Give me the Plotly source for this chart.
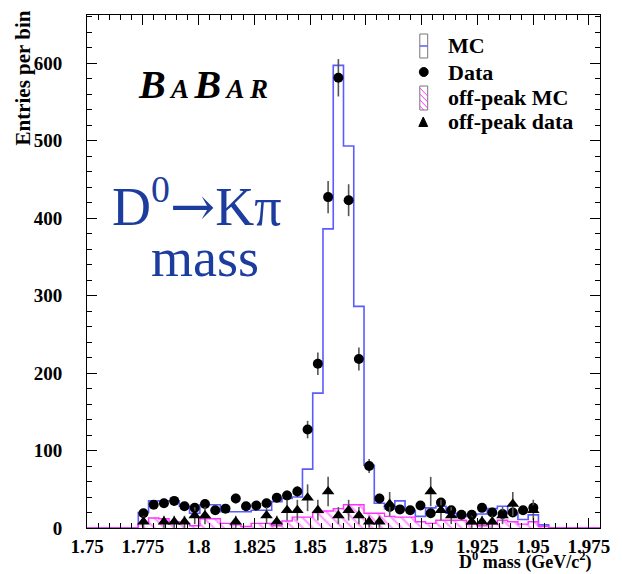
import plotly.graph_objects as go

# ---- binning (50 bins from 1.75 to 1.98 GeV/c^2) ----
bin_lo = 1.75
bin_width = 0.0046
n_bins = 50

# ---- MC (on-peak) histogram contents, bins 0..49 ----
mc_counts = [0, 0, 0, 0, 0,
             20, 35, 35, 35, 28, 19, 30, 30, 21, 21,
             21, 23, 23, 34, 38, 40, 76, 174, 386, 597,
             493, 286, 81, 32, 25, 35, 23, 15, 26, 28,
             19, 15, 17, 18, 25, 28, 19, 11, 17, 4,
             0, 0, 0, 0, 0]

# ---- off-peak MC histogram contents ----
offmc_counts = [0, 0, 0, 0, 0,
                6, 13, 12, 8, 6, 3, 12, 12, 6, 4,
                2, 6, 6, 3, 9, 14, 14, 20, 22, 25,
                30, 30, 19, 19, 15, 14, 14, 8, 6, 10,
                10, 10, 5, 3, 5, 10, 8, 5, 8, 2,
                0, 0, 0, 0, 0]

# ---- Data points (None = no entry) ----
data_vals = [None, None, None, None, None,
             19, 30, 32, 35, 28, 26, 31, 23, 25, 38,
             28, 29, 32, 39, 42, 47, 127, 212, 427, 581,
             423, 218, 80, 38, 27, 24, 23, 29, 19, 33,
             23, 17, 17, 26, 20, 18, 20, 23, 26, None,
             None, None, None, None, None]
data_errs = [None, None, None, None, None,
             4.4, 5.5, 5.7, 5.9, 5.3, 5.1, 5.6, 4.8, 5.0, 6.2,
             5.3, 5.4, 5.7, 6.2, 6.5, 6.9, 11.3, 14.6, 20.7, 24.1,
             20.6, 14.8, 8.9, 6.2, 5.2, 4.9, 4.8, 5.4, 4.4, 5.7,
             4.8, 4.1, 4.1, 5.1, 4.5, 4.2, 4.5, 4.8, 5.1, None,
             None, None, None, None, None]

# ---- off-peak data points ----
offdata_vals = [None, None, None, None, None,
                8, None, 8, 8, 8, 16, 16, None, None, 8,
                None, None, 16, 8, 23, 23, 39, 23, 47, 16,
                23, 16, 8, 8, 31, None, None, None, 47, 23,
                16, None, 8, 8, 8, 16, 31, None, 23, None,
                None, None, None, None, None]
offdata_errs = [None, None, None, None, None,
                7.8, None, 7.8, 7.8, 7.8, 11, 11, None, None, 7.8,
                None, None, 11, 7.8, 13.4, 13.4, 17.3, 13.4, 19, 11,
                13.4, 11, 7.8, 7.8, 15.5, None, None, None, 19, 13.4,
                11, None, 7.8, 7.8, 7.8, 11, 15.5, None, 13.4, None,
                None, None, None, None, None]

x_tickvals = [1.75, 1.775, 1.8, 1.825, 1.85, 1.875, 1.9, 1.925, 1.95, 1.975]
x_ticktext = ["1.75", "1.775", "1.8", "1.825", "1.85", "1.875", "1.9", "1.925", "1.95", "1.975"]
y_tickvals = [0, 100, 200, 300, 400, 500, 600]
y_ticktext = ["0", "100", "200", "300", "400", "500", "600"]
legend_labels = ["MC", "Data", "off-peak MC", "off-peak data"]

# ---- derived geometry ----
edges = [bin_lo + i * bin_width for i in range(n_bins + 1)]
centers = [bin_lo + (i + 0.5) * bin_width for i in range(n_bins)]

def pts(vals, errs):
    xs, ys, es = [], [], []
    for c, v, e in zip(centers, vals, errs):
        if v is not None:
            xs.append(c); ys.append(v); es.append(e)
    return xs, ys, es

# layout geometry (pixels)
W, H = 622, 574
ML, MR, MT, MB = 87, 14, 15, 46
PW, PH = W - ML - MR, H - MT - MB

def px(x):
    return (x - ML) / PW

def py(y):
    return 1 - (y - MT) / PH

SERIF = "Liberation Serif, Times New Roman, serif"
BLUE = "#5b5bff"
MAGENTA = "#ff33ff"
TEXTBLUE = "#1c3d9e"

fig = go.Figure()

# off-peak MC hatched fill
fig.add_trace(go.Bar(
    x=centers, y=offmc_counts, width=bin_width,
    marker=dict(color="rgba(0,0,0,0)", line=dict(width=0),
                pattern=dict(shape="\\", fgcolor=MAGENTA, bgcolor="rgba(0,0,0,0)",
                             size=7, solidity=0.3)),
    name="off-peak MC", hoverinfo="skip"))

# MC step outline
fig.add_trace(go.Scatter(
    x=edges, y=mc_counts + [mc_counts[-1]], mode="lines",
    line=dict(color=BLUE, width=1.6, shape="hv"), name="MC"))

# off-peak MC outline
fig.add_trace(go.Scatter(
    x=edges, y=offmc_counts + [offmc_counts[-1]], mode="lines",
    line=dict(color=MAGENTA, width=1.4, shape="hv"), hoverinfo="skip"))

dx, dy, de = pts(data_vals, data_errs)
fig.add_trace(go.Scatter(
    x=dx, y=dy, mode="markers",
    marker=dict(symbol="circle", size=10, color="black"),
    error_y=dict(type="data", array=de, color="#555555", thickness=1.6, width=0),
    name="Data"))

ox, oy, oe = pts(offdata_vals, offdata_errs)
fig.add_trace(go.Scatter(
    x=ox, y=oy, mode="markers",
    marker=dict(symbol="triangle-up", size=11, color="black"),
    error_y=dict(type="data", array=oe, color="#555555", thickness=1.6, width=0),
    name="off-peak data"))

axis_common = dict(
    showline=True, linecolor="black", linewidth=1, mirror="ticks",
    ticks="inside", tickcolor="black", showgrid=False, zeroline=False,
    tickfont=dict(family=SERIF, size=19, color="black", weight="bold"),
)

fig.update_xaxes(
    range=[1.75, 1.98], tickmode="array", tickvals=x_tickvals,
    ticktext=["<b>%s</b>" % t for t in x_ticktext],
    ticklen=10, ticklabelstandoff=1,
    minor=dict(dtick=0.005, tick0=1.75, ticklen=5, ticks="inside", tickcolor="black"),
    **axis_common)
fig.update_yaxes(
    range=[0, 662], tickmode="array", tickvals=y_tickvals,
    ticktext=["<b>%s</b>" % t for t in y_ticktext],
    ticklen=10, ticklabelstandoff=20,
    minor=dict(dtick=20, tick0=0, ticklen=5, ticks="inside", tickcolor="black"),
    **axis_common)

# ---- manual ROOT-style legend ----
leg_y = [46, 72, 98, 122]
leg_text_x = 452
icon_x0, icon_x1 = 425, 433
shapes = []
# MC: open box with blue line
shapes.append(dict(type="rect", xref="paper", yref="paper",
                   x0=px(icon_x0), x1=px(icon_x1), y0=py(leg_y[0] + 12), y1=py(leg_y[0] - 12),
                   line=dict(color="#777777", width=1), fillcolor="rgba(0,0,0,0)"))
shapes.append(dict(type="line", xref="paper", yref="paper",
                   x0=px(icon_x0), x1=px(icon_x1), y0=py(leg_y[0]), y1=py(leg_y[0]),
                   line=dict(color=BLUE, width=1.5)))
# Data: filled circle
shapes.append(dict(type="circle", xref="paper", yref="paper",
                   x0=px(424.5), x1=px(433.5), y0=py(leg_y[1] + 4.5), y1=py(leg_y[1] - 4.5),
                   line=dict(color="black", width=1), fillcolor="black"))
# off-peak MC: hatched box
shapes.append(dict(type="rect", xref="paper", yref="paper",
                   x0=px(icon_x0), x1=px(icon_x1), y0=py(leg_y[2] + 12), y1=py(leg_y[2] - 12),
                   line=dict(color="#777777", width=1), fillcolor="rgba(0,0,0,0)"))
top = leg_y[2] - 12
for k in range(4):
    ys = top + 2 + k * 6
    ye = min(ys + (icon_x1 - icon_x0), leg_y[2] + 12)
    shapes.append(dict(type="line", xref="paper", yref="paper",
                       x0=px(icon_x0), x1=px(icon_x0 + (ye - ys)), y0=py(ys), y1=py(ye),
                       line=dict(color=MAGENTA, width=1)))
# off-peak data: filled triangle
ty = leg_y[3]
shapes.append(dict(type="path", xref="paper", yref="paper",
                   path="M %f,%f L %f,%f L %f,%f Z" % (px(424), py(ty + 4.5), px(433), py(ty + 4.5),
                                                       px(428.5), py(ty - 5)),
                   line=dict(color="black", width=1), fillcolor="black"))

annotations = []
for lab, yy in zip(legend_labels, leg_y):
    annotations.append(dict(text="<b>%s</b>" % lab, xref="paper", yref="paper",
                            x=px(leg_text_x), y=py(yy), xanchor="left", yanchor="middle",
                            showarrow=False, font=dict(family=SERIF, size=22, color="black")))

annotations += [
    dict(text="<b>Entries per bin</b>", xref="paper", yref="paper",
         x=px(21), y=py(9), xanchor="center", yanchor="top",
         textangle=-90, showarrow=False,
         font=dict(family=SERIF, size=21, color="black")),
    dict(text="<b>D<sup>0</sup> mass (GeV/c<sup>2</sup>)</b>", xref="paper", yref="paper",
         x=px(602), y=py(561), xanchor="right", yanchor="middle",
         showarrow=False,
         font=dict(family=SERIF, size=18, color="black")),
    dict(text="<b><i><span style='font-size:40px'>B</span>\u2009"
              "<span style='font-size:27px'>A</span>\u2009"
              "<span style='font-size:40px'>B</span>\u2009"
              "<span style='font-size:27px'>A</span>\u2009"
              "<span style='font-size:27px'>R</span></i></b>",
         xref="paper", yref="paper", x=px(205), y=py(84),
         xanchor="center", yanchor="middle", showarrow=False,
         font=dict(family=SERIF, size=27, color="black")),
    dict(text="D<sup>0</sup><span style='font-family:DejaVu Serif'>\u2192</span>K\u03c0",
         xref="paper", yref="paper", x=px(198), y=py(203),
         xanchor="center", yanchor="middle", showarrow=False,
         font=dict(family=SERIF, size=54, color=TEXTBLUE)),
    dict(text="mass", xref="paper", yref="paper", x=px(207), y=py(258),
         xanchor="center", yanchor="middle", showarrow=False,
         font=dict(family=SERIF, size=54, color=TEXTBLUE)),
]

fig.update_layout(
    width=W, height=H,
    margin=dict(l=ML, r=MR, t=MT, b=MB),
    paper_bgcolor="white", plot_bgcolor="white",
    bargap=0, barmode="overlay", showlegend=False,
    shapes=shapes, annotations=annotations,
)

fig.write_html("out.html")
